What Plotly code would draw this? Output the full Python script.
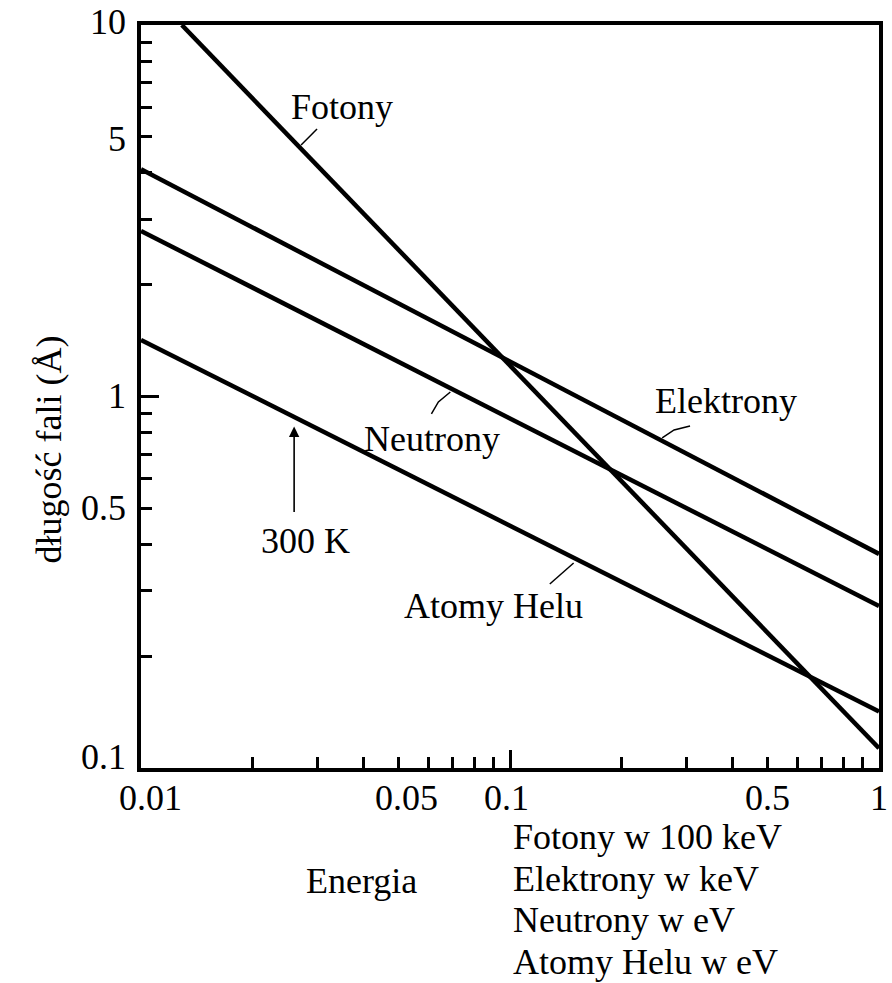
import math
import plotly.graph_objects as go

# Energy axis (log) end points of every curve
energy_ends = [0.01, 1.0]
photon_energy = [0.0129, 1.0]

# Wavelength (Angstrom) at the end points
photon_wavelength = [10.0, 0.113]
electron_wavelength = [4.09, 0.377]
neutron_wavelength = [2.79, 0.273]
helium_wavelength = [1.42, 0.142]

# Thermal energy of helium atoms at 300 K (eV) and wavelength there
thermal_energy = 0.026
thermal_wavelength = 0.83

x_tick_values = [0.01, 0.05, 0.1, 0.5, 1]
x_tick_text = ["0.01", "0.05", "0.1", "0.5", "1"]
x_tick_shift = [9, 8, -4, 0, 0]
y_tick_values = [10, 5, 1, 0.5, 0.1]
y_tick_text = ["10", "5", "1", "0.5", "0.1"]
y_tick_shift = [3, -2, 1, 0, 11]

unit_lines = ["Fotony w 100 keV", "Elektrony w keV", "Neutrony w eV", "Atomy Helu w eV"]

FONT = "Liberation Serif, Times New Roman, serif"
FS = 36
W, H = 892, 983
ML, MR, MT, MB = 141, 9, 25, 215
PW, PH = W - ML - MR, H - MT - MB


def px(xp, yp):
    """page pixel -> paper coordinates"""
    return (xp - ML) / PW, (H - MB - yp) / PH


fig = go.Figure()
line_style = dict(color="black", width=4.5)
fig.add_trace(go.Scatter(x=photon_energy, y=photon_wavelength, mode="lines", line=line_style, name="Fotony"))
fig.add_trace(go.Scatter(x=energy_ends, y=electron_wavelength, mode="lines", line=line_style, name="Elektrony"))
fig.add_trace(go.Scatter(x=energy_ends, y=neutron_wavelength, mode="lines", line=line_style, name="Neutrony"))
fig.add_trace(go.Scatter(x=energy_ends, y=helium_wavelength, mode="lines", line=line_style, name="Atomy Helu"))

axis_common = dict(
    type="log",
    showgrid=False,
    zeroline=False,
    showline=True,
    linecolor="black",
    linewidth=4,
    mirror=True,
    ticks="inside",
    ticklen=18,
    tickwidth=3,
    tickcolor="black",
    dtick=1,
    showticklabels=False,
    minor=dict(ticks="inside", ticklen=11, tickwidth=3, tickcolor="black", dtick="D1", showgrid=False),
)
fig.update_xaxes(range=[-2, 0], **axis_common)
fig.update_yaxes(range=[-1, 1], **axis_common)

annotations = []
txt = dict(font=dict(family=FONT, size=FS, color="black"), showarrow=False)

# tick labels
for v, t, s in zip(x_tick_values, x_tick_text, x_tick_shift):
    annotations.append(dict(x=math.log10(v), y=0, xref="x", yref="paper", text=t,
                            xanchor="center", yanchor="middle", xshift=s, yshift=-30, **txt))
for v, t, s in zip(y_tick_values, y_tick_text, y_tick_shift):
    annotations.append(dict(x=-13 / PW, y=math.log10(v), xref="paper", yref="y", text=t,
                            xanchor="right", yanchor="middle", yshift=s, **txt))

# axis titles
x0, y0 = px(48, 450)
annotations.append(dict(x=x0, y=y0, xref="paper", yref="paper", text="długość fali (Å)",
                        textangle=-90, xanchor="center", yanchor="middle", **txt))
x0, y0 = px(363, 881)
annotations.append(dict(x=x0, y=y0, xref="paper", yref="paper", text="Energia",
                        xanchor="center", yanchor="middle", **txt))
for i, t in enumerate(unit_lines):
    x0, y0 = px(513, 837 + 41.5 * i)
    annotations.append(dict(x=x0, y=y0, xref="paper", yref="paper", text=t,
                            xanchor="left", yanchor="middle", **txt))

# curve labels
curve_labels = [("Fotony", 343, 107), ("Elektrony", 729, 401), ("Neutrony", 434, 439),
                ("300 K", 306, 541), ("Atomy Helu", 495, 606)]
for t, a, b in curve_labels:
    x0, y0 = px(a, b)
    annotations.append(dict(x=x0, y=y0, xref="paper", yref="paper", text=t,
                            xanchor="center", yanchor="middle", **txt))

# arrow marking 300 K on the helium curve
annotations.append(dict(x=math.log10(thermal_energy), y=math.log10(thermal_wavelength),
                        xref="x", yref="y", text="", showarrow=True, arrowhead=2,
                        arrowsize=1.3, arrowwidth=1.6, arrowcolor="black", ax=0, ay=87))

# leader strokes from labels to curves
leaders = [
    [(318, 129), (302, 145)],
    [(693, 426), (677, 430), (665, 438)],
    [(433, 414), (440, 402), (452, 392)],
    [(552, 584), (576, 563)],
]
shapes = []
for pts in leaders:
    pp = [px(a, b) for a, b in pts]
    path = "M " + " L ".join(f"{a:.5f},{b:.5f}" for a, b in pp)
    shapes.append(dict(type="path", path=path, xref="paper", yref="paper",
                       line=dict(color="black", width=1.5)))

fig.update_layout(
    width=W, height=H,
    margin=dict(l=ML, r=MR, t=MT, b=MB, pad=0),
    paper_bgcolor="white", plot_bgcolor="white",
    showlegend=False,
    annotations=annotations,
    shapes=shapes,
    font=dict(family=FONT, size=FS, color="black"),
)

fig.write_html("out.html", config={"displayModeBar": False})
